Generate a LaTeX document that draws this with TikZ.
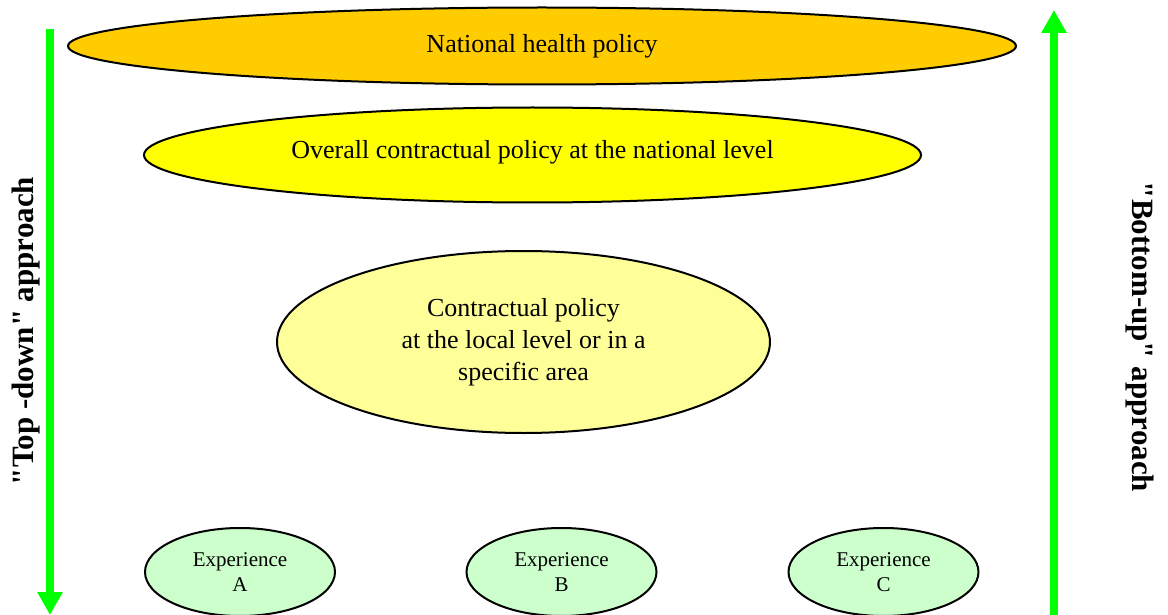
\documentclass[tikz,border=0pt]{standalone}
\usepackage{fontspec}
\setmainfont{Liberation Serif}
\newfontfamily\labelfont{Liberation Serif}
\usetikzlibrary{shapes.geometric,arrows.meta}
\definecolor{natfill}{HTML}{FFCC00}
\definecolor{ovfill}{HTML}{FFFF00}
\definecolor{locfill}{HTML}{FFFF99}
\definecolor{expfill}{HTML}{CCFFCC}
\definecolor{arrgreen}{HTML}{00FF00}
\begin{document}
\begin{tikzpicture}[x=1pt,y=-1pt,
  ell/.style={ellipse, draw=black, line width=2pt, inner sep=0pt, align=center},
  bigtext/.style={font=\fontsize{26}{32}\selectfont},
  exptext/.style={font=\fontsize{21}{25}\selectfont},
  sidelabel/.style={font=\labelfont\fontsize{31}{36}\selectfont\bfseries},
  greenarrow/.style={draw=arrgreen, line width=8pt, -{Triangle[width=24pt,length=23pt]}}
]
\useasboundingbox (0,0) rectangle (1168,615);
\node[ell, bigtext, fill=natfill, minimum width=948pt, minimum height=77pt] (nat) at (542,46) {\raisebox{-2pt}{National health policy}};
\node[ell, bigtext, fill=ovfill, minimum width=777pt, minimum height=95pt] (ov) at (532.5,155) {\raisebox{11pt}{Overall contractual policy at the national level}};
\node[ell, bigtext, fill=locfill, minimum width=493pt, minimum height=182pt] (loc) at (523.5,342) {Contractual policy\\at the local level or in a\\specific area};
\node[ell, exptext, fill=expfill, minimum width=190pt, minimum height=88pt] (ea) at (240,572) {Experience\\A};
\node[ell, exptext, fill=expfill, minimum width=190pt, minimum height=88pt] (eb) at (561.5,572) {Experience\\B};
\node[ell, exptext, fill=expfill, minimum width=190pt, minimum height=88pt] (ec) at (883.5,572) {Experience\\C};
\coordinate (tdtop) at (50,29);
\coordinate (tdbot) at (50,615);
\coordinate (butop) at (1054,10);
\coordinate (bubot) at (1054,616);
\draw[greenarrow] (tdtop) -- (tdbot);
\draw[greenarrow] (bubot) -- (butop);
\node[sidelabel, rotate=90] (td) at (26,331) {"Top -down" approach};
\node[sidelabel, rotate=-90] (bu) at (1140,337) {"Bottom-up" approach};
\end{tikzpicture}
\end{document}
